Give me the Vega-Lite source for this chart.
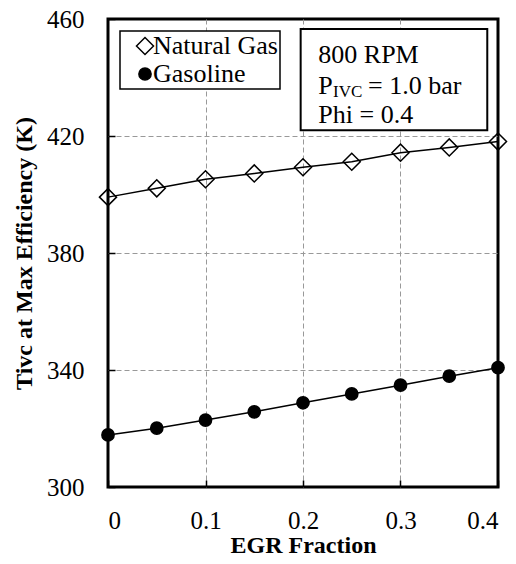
{
  "$schema": "https://vega.github.io/schema/vega-lite/v6.json",
  "width": 390,
  "height": 468,
  "autosize": {"type": "none"},
  "padding": {"left": 108, "top": 19, "right": 18, "bottom": 77},
  "background": "white",
  "config": {
    "font": "Liberation Serif, Times New Roman, serif",
    "view": {"stroke": "black", "strokeWidth": 3},
    "axis": {
      "domain": false,
      "labelFont": "Liberation Serif, Times New Roman, serif",
      "labelFontSize": 25,
      "labelColor": "black",
      "titleFont": "Liberation Serif, Times New Roman, serif",
      "titleFontSize": 24,
      "titleFontWeight": "bold",
      "titleColor": "black",
      "gridColor": "#999999",
      "gridDash": [5, 3],
      "gridWidth": 1,
      "tickColor": "black",
      "tickWidth": 1.5,
      "tickSize": -7
    },
    "legend": {
      "orient": "top-left",
      "offset": 12,
      "fillColor": "white",
      "strokeColor": "black",
      "strokeWidth": 1.5,
      "padding": 2,
      "rowPadding": 2,
      "labelFont": "Liberation Serif, Times New Roman, serif",
      "labelFontSize": 26,
      "labelColor": "black",
      "labelOffset": -5,
      "symbolOffset": 10,
      "symbolStrokeColor": "black",
      "symbolStrokeWidth": 1.5
    }
  },
  "datasets": {
    "series": [
      {"series": "Natural Gas", "egr": 0.0, "tivc": 399.1},
      {"series": "Natural Gas", "egr": 0.05, "tivc": 402.1},
      {"series": "Natural Gas", "egr": 0.1, "tivc": 405.2},
      {"series": "Natural Gas", "egr": 0.15, "tivc": 407.2},
      {"series": "Natural Gas", "egr": 0.2, "tivc": 409.3},
      {"series": "Natural Gas", "egr": 0.25, "tivc": 411.2},
      {"series": "Natural Gas", "egr": 0.3, "tivc": 414.3},
      {"series": "Natural Gas", "egr": 0.35, "tivc": 416.1},
      {"series": "Natural Gas", "egr": 0.4, "tivc": 418.1},
      {"series": "Gasoline", "egr": 0.0, "tivc": 317.8},
      {"series": "Gasoline", "egr": 0.05, "tivc": 320.1},
      {"series": "Gasoline", "egr": 0.1, "tivc": 322.9},
      {"series": "Gasoline", "egr": 0.15, "tivc": 325.7},
      {"series": "Gasoline", "egr": 0.2, "tivc": 328.8},
      {"series": "Gasoline", "egr": 0.25, "tivc": 331.8},
      {"series": "Gasoline", "egr": 0.3, "tivc": 334.8},
      {"series": "Gasoline", "egr": 0.35, "tivc": 337.9},
      {"series": "Gasoline", "egr": 0.4, "tivc": 340.8}
    ],
    "box": [{"egr": 0.1976, "egr2": 0.389, "tivc": 456.6, "tivc2": 422.0}],
    "notes": [
      {"label": "800 RPM", "egr": 0.2157, "tivc": 444.8},
      {"label": "P", "egr": 0.2157, "tivc": 434.4},
      {"label": "= 1.0 bar", "egr": 0.2667, "tivc": 434.4},
      {"label": "Phi = 0.4", "egr": 0.2157, "tivc": 424.5}
    ],
    "subs": [{"label": "IVC", "egr": 0.2308, "tivc": 433.2}]
  },
  "layer": [
    {
      "data": {"name": "series"},
      "mark": {"type": "line", "color": "black", "strokeWidth": 1.5},
      "encoding": {
        "x": {
          "field": "egr", "type": "quantitative", "title": "EGR Fraction",
          "scale": {"domain": [0, 0.4], "nice": false, "zero": false},
          "axis": {
            "values": [0, 0.1, 0.2, 0.3, 0.4], "format": "~g",
            "labelPadding": 28, "titlePadding": 0,
            "gridOpacity": {"condition": {"test": "datum.value < 0.001 || datum.value > 0.399", "value": 0}, "value": 1}
          }
        },
        "y": {
          "field": "tivc", "type": "quantitative", "title": "Tivc at Max Efficiency (K)",
          "scale": {"domain": [300, 460], "nice": false, "zero": false},
          "axis": {
            "values": [300, 340, 380, 420, 460],
            "labelPadding": 31, "titlePadding": 10,
            "gridOpacity": {"condition": {"test": "datum.value < 301 || datum.value > 459", "value": 0}, "value": 1}
          }
        },
        "detail": {"field": "series", "type": "nominal"}
      }
    },
    {
      "data": {"name": "series"},
      "mark": {"type": "point", "filled": true, "strokeWidth": 1.5, "opacity": 1},
      "encoding": {
        "x": {"field": "egr", "type": "quantitative", "title": "EGR Fraction"},
        "y": {"field": "tivc", "type": "quantitative", "title": "Tivc at Max Efficiency (K)"},
        "shape": {"field": "series", "type": "nominal", "title": null,
          "scale": {"domain": ["Natural Gas", "Gasoline"], "range": ["diamond", "circle"]}},
        "fill": {"field": "series", "type": "nominal", "title": null,
          "scale": {"domain": ["Natural Gas", "Gasoline"], "range": ["transparent", "black"]}},
        "stroke": {"field": "series", "type": "nominal", "title": null,
          "scale": {"domain": ["Natural Gas", "Gasoline"], "range": ["black", "black"]}},
        "size": {"field": "series", "type": "nominal", "title": null,
          "scale": {"domain": ["Natural Gas", "Gasoline"], "range": [290, 150]}}
      }
    },
    {
      "data": {"name": "box"},
      "mark": {"type": "rect", "fill": "white", "stroke": "black", "strokeWidth": 2},
      "encoding": {
        "x": {"field": "egr", "type": "quantitative", "title": "EGR Fraction"},
        "x2": {"field": "egr2"},
        "y": {"field": "tivc", "type": "quantitative", "title": "Tivc at Max Efficiency (K)"},
        "y2": {"field": "tivc2"}
      }
    },
    {
      "data": {"name": "notes"},
      "mark": {"type": "text", "align": "left", "baseline": "alphabetic", "fontSize": 26, "font": "Liberation Serif, Times New Roman, serif", "color": "black"},
      "encoding": {
        "x": {"field": "egr", "type": "quantitative", "title": "EGR Fraction"},
        "y": {"field": "tivc", "type": "quantitative", "title": "Tivc at Max Efficiency (K)"},
        "text": {"field": "label"}
      }
    },
    {
      "data": {"name": "subs"},
      "mark": {"type": "text", "align": "left", "baseline": "alphabetic", "fontSize": 17, "font": "Liberation Serif, Times New Roman, serif", "color": "black"},
      "encoding": {
        "x": {"field": "egr", "type": "quantitative", "title": "EGR Fraction"},
        "y": {"field": "tivc", "type": "quantitative", "title": "Tivc at Max Efficiency (K)"},
        "text": {"field": "label"}
      }
    }
  ]
}
